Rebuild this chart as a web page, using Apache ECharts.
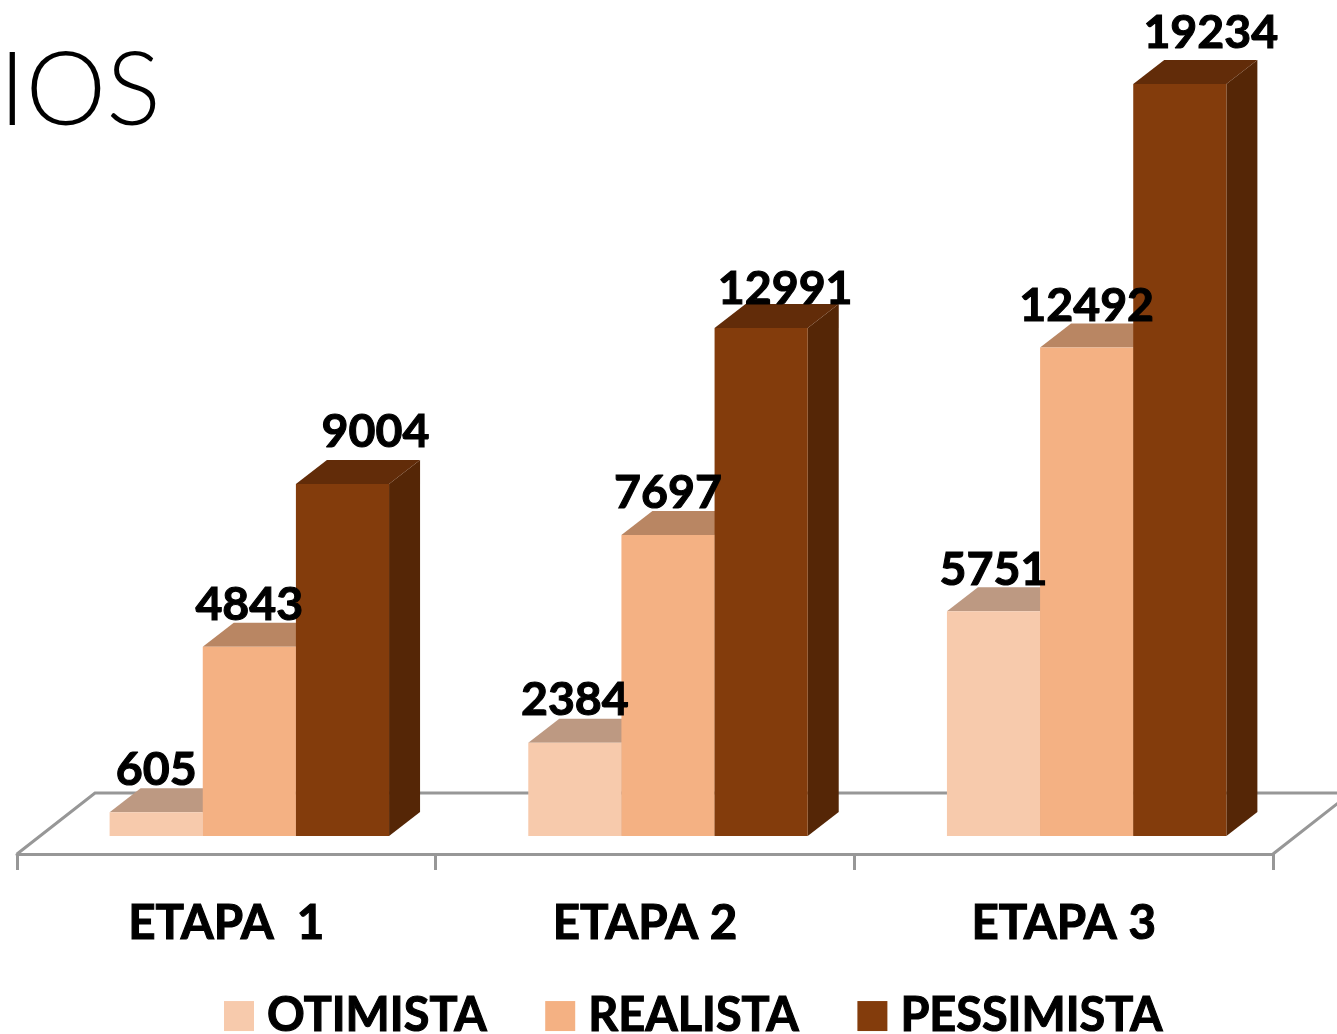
<!DOCTYPE html>
<html><head><meta charset="utf-8">
<style>html,body{margin:0;padding:0;background:#fff;overflow:hidden}#c{width:1337px;height:1034px}</style>
<script src="https://cdn.jsdelivr.net/npm/echarts@6/dist/echarts.min.js"></script>
</head><body><div id="c"></div>
<script>
const categories = ['ETAPA  1', 'ETAPA 2', 'ETAPA 3'];
const otimista = [605, 2384, 5751];
const realista = [4843, 7697, 12492];
const pessimista = [9004, 12991, 19234];

const FONT = 'Lato';
const DX = 31, DY = -24, GROUP_SHIFT = 23;
const axisMin = -460, axisMax = 19234;
const LINE = '#979797';
const looks = [
  {name:'OTIMISTA', data:otimista, front:'#F7CAAC', top:'#BD9982', side:'#BD9982', idx:0, lx:[0,0,0], ly:[-42,-43,-41]},
  {name:'REALISTA', data:realista, front:'#F4B183', top:'#B98663', side:'#B98663', idx:1, lx:[0,0,0], ly:[-42,-42,-42]},
  {name:'PESSIMISTA', data:pessimista, front:'#833C0C', top:'#622C09', side:'#552606', idx:2, lx:[33,24,31], ly:[-52,-39,-51]}
];
function poly(points, fill, z2){
  return {type:'polygon', z2:z2, shape:{points:points}, style:{fill:fill, stroke:null}};
}
function barRender(look){
  return function(params, api){
    const i = api.value(0), v = api.value(1);
    const band = api.size([1,0])[0];
    const w = band*93/418;
    const cx = api.coord([i,0])[0] + GROUP_SHIFT;
    const x0 = cx - 1.5*w + look.idx*w, x1 = x0 + w;
    const y0 = api.coord([i,0])[1], y1 = api.coord([i,v])[1];
    const z = 10 + look.idx*3;
    return {type:'group', children:[
      poly([[x1,y1],[x1+DX,y1+DY],[x1+DX,y0+DY],[x1,y0]], look.side, z),
      poly([[x0,y1],[x0+DX,y1+DY],[x1+DX,y1+DY],[x1,y1]], look.top, z+1),
      poly([[x0,y0],[x1,y0],[x1,y1],[x0,y1]], look.front, z+2),
      {type:'text', z2:100, style:{text:String(v), x:(x0+x1)/2+look.lx[i], y:y1+look.ly[i],
        align:'center', verticalAlign:'middle', fill:'#000', stroke:'#000', lineWidth:1.1, font:'bold 46.5px '+FONT}}
    ]};
  };
}
const floorSeries = {
  type:'custom', silent:true, legendHoverLink:false, tooltip:{show:false}, z:2, clip:false,
  data:[[0]], encode:{x:0},
  renderItem:function(params, api){
    const band = api.size([1,0])[0];
    const yF = api.coord([0,axisMin])[1];
    const xL = api.coord([0,0])[0]-band/2, xR = api.coord([2,0])[0]+band/2;
    const bx = 78, by = -61;
    return {type:'polyline', z2:1, shape:{points:[[xL,yF],[xL+bx,yF+by],[xR+bx,yF+by],[xR,yF]]},
      style:{stroke:LINE, lineWidth:3, fill:null}};
  }
};
const option = {
  animation:false,
  backgroundColor:'#fff',
  title:{text:'IOS', left:-6, top:36, textStyle:{fontFamily:FONT, fontWeight:300, fontSize:102, color:'#000'}},
  legend:{left:219, top:987, itemWidth:30, itemHeight:30, itemGap:58, icon:'rect',
    data:looks.map(l=>l.name),
    textStyle:{fontFamily:FONT, fontWeight:'bold', fontSize:46.8, color:'#000', padding:[0,0,0,8],
      textBorderColor:'#000', textBorderWidth:1.1}},
  grid:{left:17, right:64, top:84, bottom:180},
  xAxis:{type:'category', data:categories, boundaryGap:true,
    axisLine:{onZero:false, lineStyle:{color:LINE, width:3}},
    axisTick:{show:true, length:16, lineStyle:{color:LINE, width:3}},
    axisLabel:{margin:46, fontFamily:FONT, fontWeight:'bold', fontSize:47.5, color:'#000',
      textBorderColor:'#000', textBorderWidth:1.1}},
  yAxis:{type:'value', min:axisMin, max:axisMax, show:false, splitLine:{show:false}},
  series:[floorSeries].concat(looks.map(l=>({
    type:'custom', name:l.name, z:3, clip:false,
    itemStyle:{color:l.front},
    encode:{x:0,y:1},
    data:l.data.map((v,i)=>[i,v]),
    renderItem:barRender(l)
  })))
};
const chart = echarts.init(document.getElementById('c'), null, {renderer:'canvas'});
chart.setOption(option);
</script></body></html>
